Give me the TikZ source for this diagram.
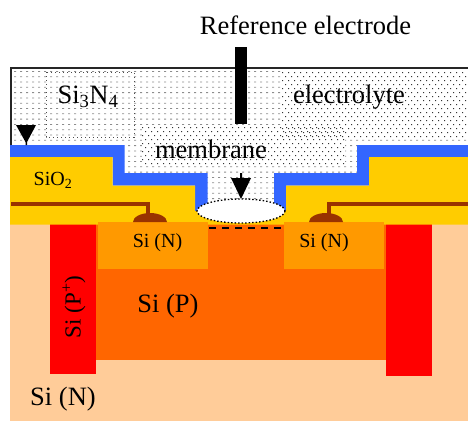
\documentclass[tikz,border=0pt]{standalone}
\usepackage{fontspec}
\setmainfont{Liberation Serif}
\definecolor{siN}{HTML}{FFCC99}
\definecolor{siP}{HTML}{FF6600}
\definecolor{siNbox}{HTML}{FF9900}
\definecolor{oxide}{HTML}{FFCC00}
\definecolor{nitride}{HTML}{3366FF}
\definecolor{metal}{HTML}{993300}
\tikzset{
  big/.style={font=\fontsize{26.5}{28}\selectfont,inner sep=0pt},
  small/.style={font=\fontsize{20}{22}\selectfont,inner sep=0pt},
  wire/.style={draw=metal,line width=3.5pt,line join=miter},
  tip/.style={fill=black,draw=none},
  sparse/.style={fill=black!45,draw=none},
  dense/.style={fill=black!80,draw=none}
}
\begin{document}
\begin{tikzpicture}[x=1pt,y=-1pt]
\useasboundingbox (0,0) rectangle (468,421);
% electrolyte pattern
\fill[sparse] \foreach \yy in {71,76.3,...,226} {\foreach \xx in {14,20,...,468} {(\xx,\yy) rectangle ++(2,0.8)}};
\fill[white] (282,71) rectangle (468,139);
\fill[white] (142,126) rectangle (346,139);
\fill[white] (142,139) rectangle (345,166);
\fill[dense] \foreach \yy in {0,1,...,16} {\foreach \xx in {0,1,...,31} {({282+\xx*6+3*mod(\yy,2)},{72+\yy*4}) rectangle ++(1,1)}};
\fill[dense] \foreach \yy in {0,1,...,9} {\foreach \xx in {0,1,...,33} {({142+\xx*6+3*mod(\yy,2)},{127+\yy*4}) rectangle ++(1,1)}};
% Si3N4 dotted outline
\draw[black!70,line width=0.7pt,dash pattern=on 1pt off 3pt] (46,72) rectangle (134,137);
% silicon
\fill[siN] (10,224) rectangle (468,421);
\fill[siP] (96,224) rectangle (386,360);
\fill[red] (49.5,224) rectangle (96,374);
\fill[red] (386,224) rectangle (432,376);
% layers
\fill[nitride] (10,145) -- (124.5,145) -- (124.5,173) -- (207.5,173) -- (207.5,213) -- (195,213) -- (195,185.5) -- (112.5,185.5) -- (112.5,157) -- (10,157) -- cycle;
\fill[nitride] (468,145) -- (357,145) -- (357,173) -- (274,173) -- (274,213) -- (286,213) -- (286,185.5) -- (369,185.5) -- (369,157) -- (468,157) -- cycle;
\fill[oxide] (10,157) -- (112.5,157) -- (112.5,185.5) -- (195,185.5) -- (195,211) -- (286,211) -- (286,185.5) -- (369,185.5) -- (369,157) -- (468,157) -- (468,224.5) -- (10,224.5) -- cycle;
\fill[siP] (208,225) rectangle (284,240);
\fill[siNbox] (98,222) rectangle (208,269);
\fill[siNbox] (284,222) rectangle (383.5,269);
% contacts
\fill[metal] (133,222) arc[start angle=180,end angle=360,x radius=17,y radius=9] -- cycle;
\fill[metal] (309,222) arc[start angle=180,end angle=360,x radius=17,y radius=9] -- cycle;
\coordinate (wl0) at (11,204);
\coordinate (wl1) at (148,204);
\coordinate (wl2) at (148,215);
\coordinate (wr0) at (468,204);
\coordinate (wr1) at (329,204);
\coordinate (wr2) at (329,215);
\draw[wire] (wl0) -- (wl1) -- (wl2);
\draw[wire] (wr0) -- (wr1) -- (wr2);
% membrane window
\fill[white] (241,211) ellipse[x radius=44,y radius=12];
\draw[black,line width=1.3pt,dash pattern=on 1.5pt off 2pt] (241,211) ellipse[x radius=44,y radius=12];
\draw[black,line width=1.5pt,dash pattern=on 7pt off 6pt] (209,228) -- (284,228);
% frame
\draw[black!85,line width=2pt] (11,145) -- (11,67.5) -- (468,67.5);
% electrode
\fill[black] (235,47) rectangle (247,124);
% arrows
\fill[tip] (16,125) -- (36,125) -- (27,142) -- (27,145) -- (25.5,145) -- (25.5,142) -- cycle;
\fill[tip] (231,178) -- (240,178) -- (240,173) -- (242,173) -- (242,178) -- (251,178) -- (241,199) -- cycle;
% labels
\node[big] (ref) at (305.5,25) {Reference electrode};
\node[big] (nit) at (88,97) {Si\textsubscript{3}N\textsubscript{4}};
\node[big] (ely) at (349,97) {electrolyte};
\node[big] (mem) at (211,149) {membrane};
\node[small] (ox) at (53,180) {SiO\textsubscript{2}};
\node[small] (nl) at (157.5,243) {Si (N)};
\node[small] (nr) at (324,243) {Si (N)};
\node[big] (pp) at (168,306) {Si (P)};
\node[font=\fontsize{23}{24}\selectfont,inner sep=0pt,rotate=90] (pplus) at (74,307) {Si (P\textsuperscript{+})};
\node[big] (nn) at (63,399) {Si (N)};
\end{tikzpicture}
\end{document}
